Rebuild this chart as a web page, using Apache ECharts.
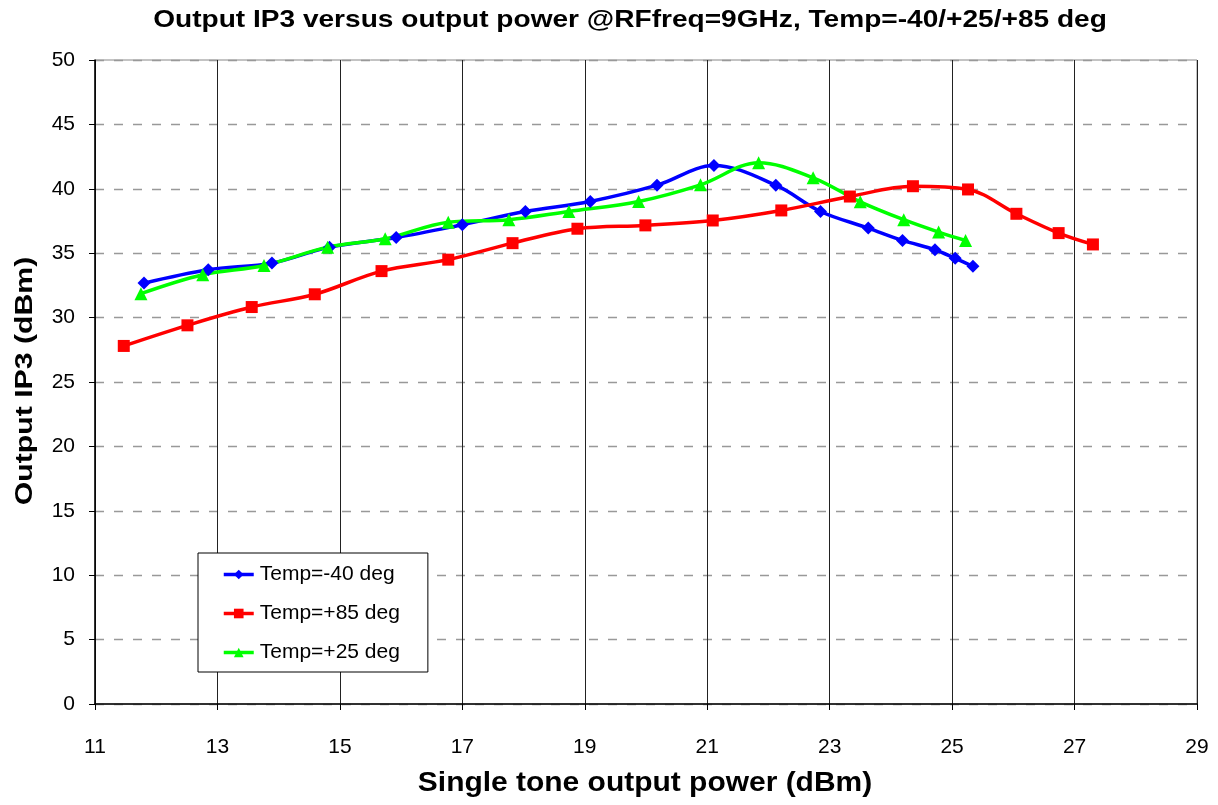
<!DOCTYPE html>
<html><head><meta charset="utf-8">
<script src="https://cdn.jsdelivr.net/npm/echarts@6/dist/echarts.min.js"></script>
<style>html,body{margin:0;padding:0;background:#fff}#c{width:1218px;height:805px}</style>
</head><body><div id="c"></div>
<script>
const titleText = 'Output IP3 versus output power @RFfreq=9GHz, Temp=-40/+25/+85 deg';
const xName = 'Single tone output power (dBm)';
const yName = 'Output IP3 (dBm)';
const seriesNames = ['Temp=-40 deg', 'Temp=+85 deg', 'Temp=+25 deg'];

const m40X = [11.80,12.85,13.89,14.83,15.92,17.00,18.03,19.09,20.18,21.11,22.12,22.85,23.63,24.19,24.72,25.05,25.34];
const m40Y = [32.68,33.72,34.23,35.47,36.22,37.21,38.24,39.02,40.28,41.81,40.28,38.24,36.95,35.99,35.27,34.60,33.98];

const p85X = [11.47,12.51,13.56,14.59,15.68,16.77,17.82,18.88,19.99,21.09,22.21,23.33,24.36,25.26,26.05,26.74,27.30];
const p85Y = [27.80,29.40,30.82,31.81,33.61,34.50,35.78,36.90,37.16,37.54,38.32,39.40,40.20,39.95,38.06,36.56,35.68];

const p25X = [11.75,12.76,13.76,14.80,15.74,16.77,17.76,18.74,19.88,20.89,21.84,22.73,23.50,24.21,24.78,25.22];
const p25Y = [31.86,33.33,34.05,35.47,36.12,37.41,37.60,38.24,39.02,40.31,42.02,40.85,38.99,37.60,36.64,35.99];

const pair = (xs, ys) => xs.map((x, i) => [x, ys[i]]);
const font = '"Liberation Sans", Arial, sans-serif';

const chart = echarts.init(document.getElementById('c'), null, {renderer: 'canvas'});
const mk = (name, data, color, symbol, size) => ({
  name, type: 'line', data, smooth: 0.35, symbol, symbolSize: size,
  lineStyle: {color, width: 3.5}, itemStyle: {color}, color
});
const boldText = (text, x, y, size, sx, rot) => ({
  type: 'text', x, y, rotation: rot || 0, scaleX: sx, scaleY: 1, silent: true,
  style: {text, fill: '#000', font: 'bold ' + size + 'px ' + font,
    textAlign: 'center', textVerticalAlign: 'middle'}
});
chart.setOption({
  animation: false,
  graphic: [
    boldText(titleText, 630, 20, 24, 1.17, 0),
    boldText(xName, 645, 783, 28, 1.07, 0),
    boldText(yName, 25, 381, 24, 1.26, Math.PI / 2)
  ],
  grid: {left: 95, right: 21, top: 60, bottom: 101, show: true, borderColor: '#888', borderWidth: 1},
  legend: {orient: 'vertical', left: 198, top: 553,
    padding: [11, 28, 9, 24], itemGap: 18, itemWidth: 30, itemHeight: 12,
    backgroundColor: '#fff', borderColor: '#000', borderWidth: 1,
    lineStyle: {width: 3.5},
    textStyle: {fontFamily: font, fontSize: 21, color: '#000', padding: [0, 0, 0, 1]},
    data: seriesNames},
  xAxis: {type: 'value', min: 11, max: 29, interval: 2,
    axisLine: {lineStyle: {color: '#000', width: 1.5}},
    axisTick: {show: true, inside: false, length: 6, lineStyle: {color: '#000'}},
    axisLabel: {fontFamily: font, fontSize: 21, color: '#000', margin: 33},
    splitLine: {show: true, lineStyle: {color: '#222', width: 1}}},
  yAxis: {type: 'value', min: 0, max: 50, interval: 5,
    axisLine: {show: true, lineStyle: {color: '#000', width: 1.5}},
    axisTick: {show: true, inside: false, length: 6, lineStyle: {color: '#000'}},
    axisLabel: {fontFamily: font, fontSize: 21, color: '#000', margin: 20},
    splitLine: {show: true, lineStyle: {color: '#999', width: 1.3, type: [9, 10]}}},
  series: [
    mk(seriesNames[0], pair(m40X, m40Y), '#0000ff', 'diamond', 13),
    mk(seriesNames[1], pair(p85X, p85Y), '#ff0000', 'rect', 12),
    mk(seriesNames[2], pair(p25X, p25Y), '#00ff00', 'triangle', 13)
  ]
});
</script></body></html>
